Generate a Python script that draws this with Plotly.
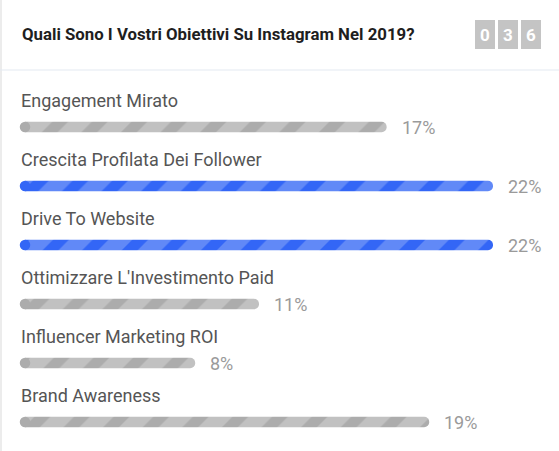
import plotly.graph_objects as go

# data
title = 'Quali Sono I Vostri Obiettivi Su Instagram Nel 2019?'
responses = '036'
answers = ['Engagement Mirato', 'Crescita Profilata Dei Follower', 'Drive To Website',
           "Ottimizzare L'Investimento Paid", 'Influencer Marketing ROI', 'Brand Awareness']
percent = [17, 22, 22, 11, 8, 19]

W, H = 559, 451
def px(x):
    return x / W
def py(y):
    return 1 - y / H

top_max = max(percent)

fig = go.Figure()

# blue for the top answers, grey for the rest
groups = [(True, '#3366f6', '#6189f7'), (False, '#acacac', '#c1c1c1')]
for is_top, dark, light in groups:
    ys = [a for a, p in zip(answers, percent) if (p == top_max) == is_top]
    xs = [p for p in percent if (p == top_max) == is_top]
    # rounded left caps
    fig.add_trace(go.Scatter(
        x=[0] * len(ys), y=ys, mode='markers',
        marker=dict(symbol='circle', size=10.5, color=dark, line_width=0),
        hoverinfo='skip', cliponaxis=False
    ))
    fig.add_trace(go.Bar(
        x=xs, y=ys, orientation='h',
        width=0.178,
        marker=dict(
            color=dark,
            cornerradius=5,
            line_width=0,
            pattern=dict(shape='/', fgcolor=light, bgcolor=dark, size=28, solidity=0.6, fillmode='replace'),
        ),
        hoverinfo='skip'
    ))

annotations = []
for a, p in zip(answers, percent):
    annotations.append(dict(x=0, y=a, xref='x', yref='y', text=a, showarrow=False,
                            xanchor='left', yanchor='middle', xshift=-6, yshift=27,
                            font=dict(family='Roboto', size=18, color='#555555')))
    annotations.append(dict(x=p, y=a, xref='x', yref='y', text=f'{p}%', showarrow=False,
                            xanchor='left', yanchor='middle', xshift=13,
                            font=dict(family='Roboto', size=18, color='#9a9a9a')))

# title
annotations.append(dict(x=px(20), y=py(34), xref='paper', yref='paper', text='<b>' + title + '</b>',
                        showarrow=False, xanchor='left', yanchor='middle',
                        font=dict(family='Roboto', size=16.8, color='#1e1e1e')))

# response counter boxes
shapes = []
box_x = [475, 498, 521]
for i, d in enumerate(responses):
    x0 = box_x[i]
    shapes.append(dict(type='rect', xref='paper', yref='paper', x0=px(x0), x1=px(x0 + 20),
                       y0=py(49), y1=py(20), fillcolor='#c4c4c4', line_width=0, layer='below'))
    annotations.append(dict(x=px(x0 + 10), y=py(35), xref='paper', yref='paper', text='<b>' + d + '</b>',
                            showarrow=False, xanchor='center', yanchor='middle',
                            font=dict(family='Roboto', size=17, color='#ffffff')))

# borders
shapes.append(dict(type='line', xref='paper', yref='paper', x0=px(1), x1=px(1), y0=0, y1=1,
                   line=dict(color='#e6e6e6', width=1.5)))
shapes.append(dict(type='line', xref='paper', yref='paper', x0=0, x1=1, y0=py(70), y1=py(70),
                   line=dict(color='#e3e9f2', width=1.2)))

k = (493 - 25) / top_max
fig.update_layout(
    width=W, height=H,
    margin=dict(l=0, r=0, t=0, b=0),
    paper_bgcolor='white', plot_bgcolor='white',
    showlegend=False,
    xaxis=dict(domain=[px(25), 1], range=[0, (W - 25) / k], visible=False, fixedrange=True),
    yaxis=dict(domain=[0, py(97.5)], range=[5.49, -0.5], visible=False, fixedrange=True,
               type='category', categoryorder='array', categoryarray=answers),
    barmode='overlay',
    annotations=annotations,
    shapes=shapes,
)

# page body has a default margin, drop it so the chart sits at the window corner
fig.write_html('out.html', config={'displayModeBar': False},
               post_script="document.body.style.margin='0';")
